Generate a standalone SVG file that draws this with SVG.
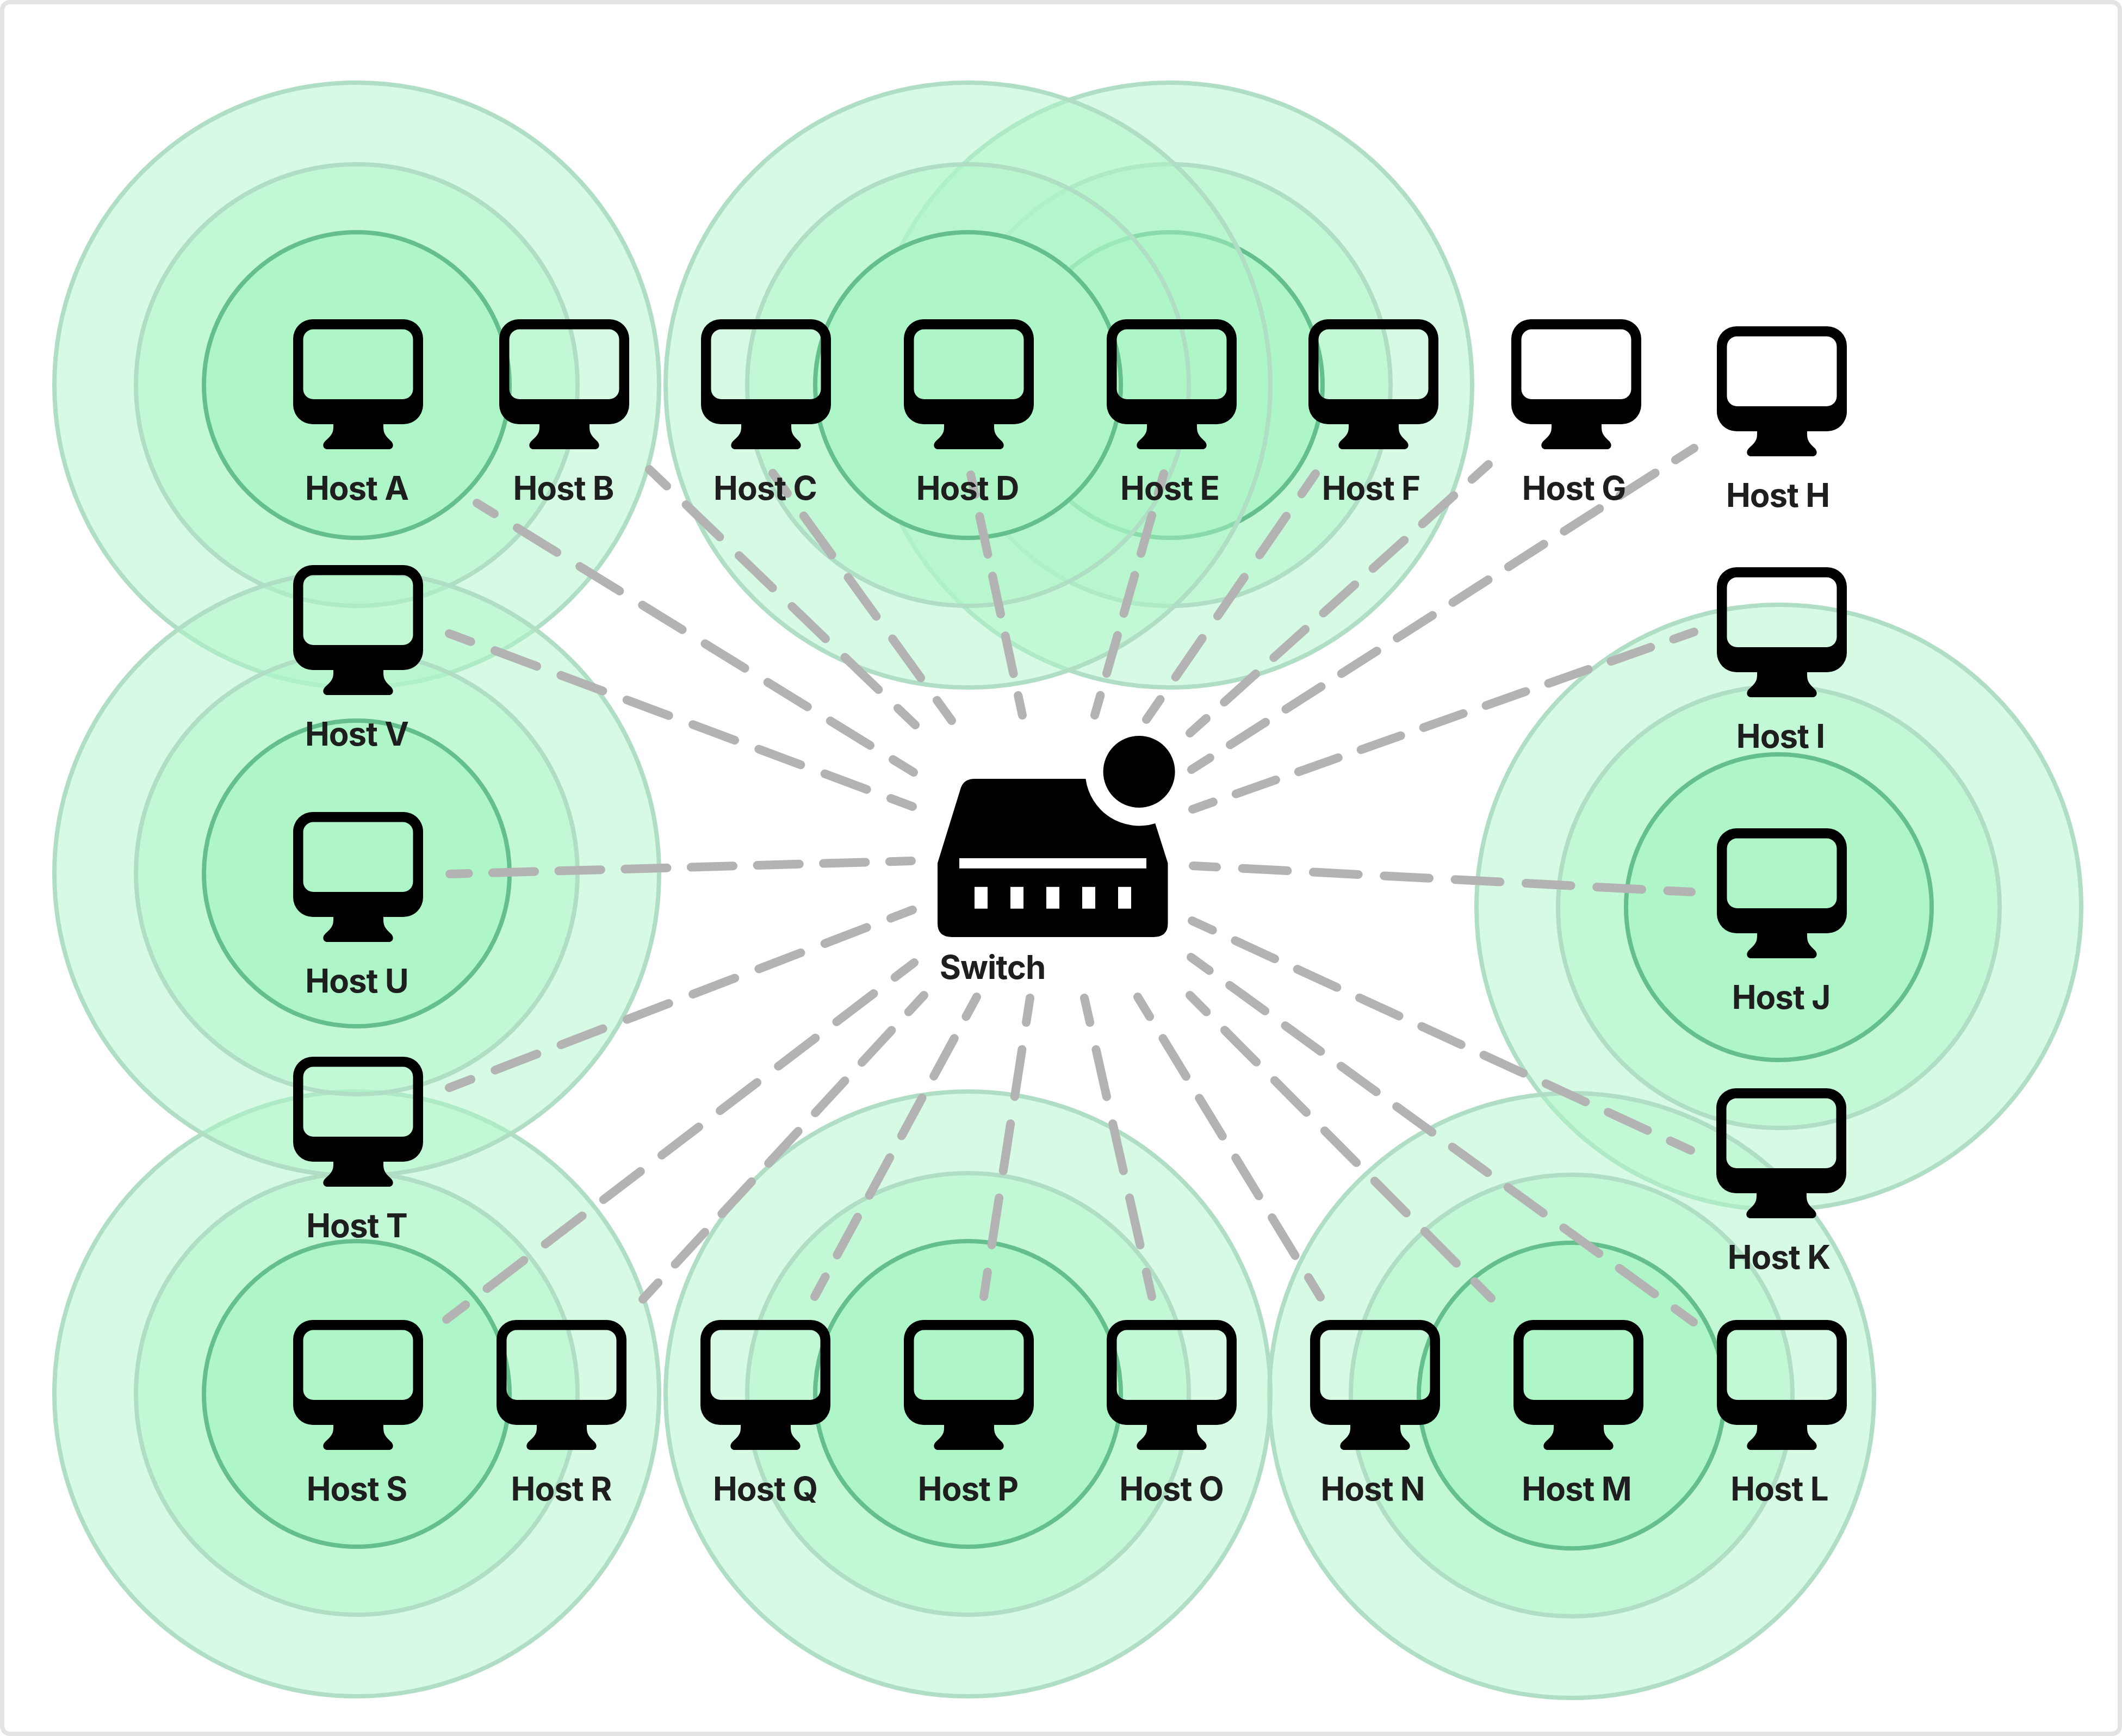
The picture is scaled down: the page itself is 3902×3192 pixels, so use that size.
<svg xmlns="http://www.w3.org/2000/svg" width="3902" height="3192" viewBox="0 0 3902 3192">
<style>
.frame{fill:#fff;stroke:#e3e3e3;stroke-width:8}
.o{fill:#aef5c8;fill-opacity:.5;stroke:#b0dec4;stroke-width:8}
.i{fill:#aef5c8;stroke:#64bf8c;stroke-width:8}
.c line{stroke:#b3b3b3;stroke-width:16;stroke-linecap:round}
.ic{fill:#000;fill-rule:evenodd}
text{font-family:"Inter","Liberation Sans",sans-serif;font-size:60px;font-weight:700;letter-spacing:-1px;fill:#1e1e1e;text-anchor:middle}
</style>
<defs>
<path id="pc" class="ic" d="M36 0H203A36 36 0 0 1 239 36V157A36 36 0 0 1 203 193H166V199C166 212 173 217 180 224C187 231 183 239 176 239H63C56 239 52 231 59 224C66 217 74 212 74 199V193H36A36 36 0 0 1 0 157V36A36 36 0 0 1 36 0ZM37 18.500H202A18.500 18.500 0 0 1 220.500 37V128.500A18.500 18.500 0 0 1 202 147H37A18.500 18.500 0 0 1 18.500 128.500V37A18.500 18.500 0 0 1 37 18.500Z"/>
<g id="halo"><circle class="o" r="556"/><circle class="o" r="406"/><circle class="i" r="281"/></g>
</defs>
<rect class="frame" x="4" y="4" width="3894" height="3184" rx="14"/>
<g id="halos">
<use href="#halo" x="3271" y="1668"/>
<use href="#halo" x="2890" y="2566"/>
<use href="#halo" x="2151" y="708"/>
<use href="#halo" x="1780" y="708"/>
<use href="#halo" x="656" y="708"/>
<use href="#halo" x="656" y="2563"/>
<use href="#halo" x="1780" y="2563"/>
<use href="#halo" x="656" y="1606"/>
</g>
<g id="connectors" class="c">
<line x1="1680" y1="1420" x2="877" y2="925" stroke-dasharray="85.900 49.400" stroke-dashoffset="41.300"/>
<line x1="1683" y1="1333" x2="1194" y2="863" stroke-dasharray="85.700 49.300" stroke-dashoffset="41.200"/>
<line x1="1750" y1="1325" x2="1421" y2="870" stroke-dasharray="88.600 50.900" stroke-dashoffset="42.500"/>
<line x1="1880" y1="1315" x2="1785" y2="873" stroke-dasharray="71.300 41" stroke-dashoffset="34.300"/>
<line x1="2013" y1="1315" x2="2140" y2="871" stroke-dasharray="72.900 41.900" stroke-dashoffset="35"/>
<line x1="2108" y1="1323" x2="2419" y2="871" stroke-dasharray="86.600 49.700" stroke-dashoffset="41.600"/>
<line x1="2188" y1="1348" x2="2737" y2="854" stroke-dasharray="77.800 44.700" stroke-dashoffset="37.400"/>
<line x1="2191" y1="1415" x2="3115" y2="824" stroke-dasharray="77.200 44.300" stroke-dashoffset="37.100"/>
<line x1="2193" y1="1488" x2="3115" y2="1162" stroke-dasharray="77.400 44.500" stroke-dashoffset="37.200"/>
<line x1="2194" y1="1592" x2="3110" y2="1640" stroke-dasharray="82.900 47.600" stroke-dashoffset="39.800"/>
<line x1="2192" y1="1693" x2="3109" y2="2115" stroke-dasharray="79.900 45.900" stroke-dashoffset="38.400"/>
<line x1="2190" y1="1760" x2="3114" y2="2431" stroke-dasharray="80.300 46.200" stroke-dashoffset="38.600"/>
<line x1="2188" y1="1830" x2="2742" y2="2387" stroke-dasharray="82.800 47.600" stroke-dashoffset="39.800"/>
<line x1="2092" y1="1833" x2="2428" y2="2385" stroke-dasharray="81.700 46.900" stroke-dashoffset="39.200"/>
<line x1="1994" y1="1835" x2="2118" y2="2384" stroke-dasharray="88.800 51" stroke-dashoffset="42.600"/>
<line x1="1894" y1="1835" x2="1809" y2="2384" stroke-dasharray="87.600 50.400" stroke-dashoffset="42.100"/>
<line x1="1796" y1="1833" x2="1498" y2="2384" stroke-dasharray="79.100 45.500" stroke-dashoffset="38"/>
<line x1="1699" y1="1830" x2="1182" y2="2389" stroke-dasharray="80.300 46.100" stroke-dashoffset="38.600"/>
<line x1="1681" y1="1770" x2="821" y2="2426" stroke-dasharray="85.600 49.200" stroke-dashoffset="41.100"/>
<line x1="1678" y1="1673" x2="826" y2="2000" stroke-dasharray="82.500 47.400" stroke-dashoffset="39.600"/>
<line x1="1676" y1="1583" x2="827" y2="1607" stroke-dasharray="77.300 44.400" stroke-dashoffset="37.100"/>
<line x1="1678" y1="1483" x2="826" y2="1165" stroke-dasharray="82.200 47.300" stroke-dashoffset="39.500"/>
</g>
<g id="host-a"><use href="#pc" x="539" y="587"/><text x="656" y="919">Host A</text></g>
<g id="host-b"><use href="#pc" x="918" y="587"/><text x="1036" y="919">Host B</text></g>
<g id="host-c"><use href="#pc" x="1289" y="587"/><text x="1407" y="919">Host C</text></g>
<g id="host-d"><use href="#pc" x="1662" y="587"/><text x="1779" y="919">Host D</text></g>
<g id="host-e"><use href="#pc" x="2035" y="587"/><text x="2151" y="919">Host E</text></g>
<g id="host-f"><use href="#pc" x="2406" y="587"/><text x="2521" y="919">Host F</text></g>
<g id="host-g"><use href="#pc" x="2779" y="587"/><text x="2894" y="919">Host G</text></g>
<g id="host-h"><use href="#pc" x="3157" y="600"/><text x="3269" y="932">Host H</text></g>
<g id="host-i"><use href="#pc" x="3157" y="1043"/><text x="3274" y="1375">Host I</text></g>
<g id="host-j"><use href="#pc" x="3157" y="1523"/><text x="3275" y="1855">Host J</text></g>
<g id="host-k"><use href="#pc" x="3156" y="2001"/><text x="3271" y="2333">Host K</text></g>
<g id="host-l"><use href="#pc" x="3157" y="2427"/><text x="3272" y="2759">Host L</text></g>
<g id="host-m"><use href="#pc" x="2783" y="2427"/><text x="2899" y="2759">Host M</text></g>
<g id="host-n"><use href="#pc" x="2409" y="2427"/><text x="2524" y="2759">Host N</text></g>
<g id="host-o"><use href="#pc" x="2035" y="2427"/><text x="2154" y="2759">Host O</text></g>
<g id="host-p"><use href="#pc" x="1662" y="2427"/><text x="1780" y="2759">Host P</text></g>
<g id="host-q"><use href="#pc" x="1288" y="2427"/><text x="1407" y="2759">Host Q</text></g>
<g id="host-r"><use href="#pc" x="913" y="2427"/><text x="1032" y="2759">Host R</text></g>
<g id="host-s"><use href="#pc" x="539" y="2427"/><text x="656" y="2759">Host S</text></g>
<g id="host-t"><use href="#pc" x="539" y="1943"/><text x="656" y="2275">Host T</text></g>
<g id="host-u"><use href="#pc" x="539" y="1493"/><text x="656" y="1825">Host U</text></g>
<g id="host-v"><use href="#pc" x="539" y="1039"/><text x="656" y="1371">Host V</text></g>
<g id="switch">
<path fill="#000" fill-rule="evenodd" d="M1724 1587L1767 1448Q1773 1432 1792 1432H1996.400A99.300 99.300 0 0 0 2124.300 1514L2147.500 1587V1698Q2147.500 1723 2120.700 1723H1751Q1724 1723 1724 1698ZM1764 1578V1596.700H2108V1578ZM1792 1630.700V1670.700H1816V1630.700ZM1858 1630.700V1670.700H1882V1630.700ZM1924 1630.700V1670.700H1948V1630.700ZM1990 1630.700V1670.700H2014V1630.700ZM2056 1630.700V1670.700H2080V1630.700Z"/>
<circle cx="2094.600" cy="1419" r="66"/>
<text x="1825" y="1800">Switch</text>
</g>
</svg>
